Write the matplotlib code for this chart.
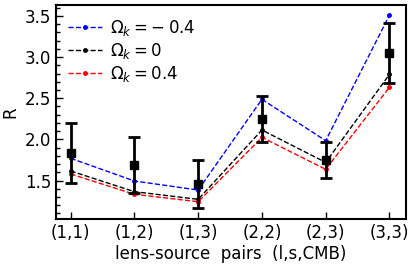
import matplotlib
matplotlib.use("Agg")
import matplotlib.pyplot as plt
from matplotlib.ticker import MultipleLocator

pairs = ["(1,1)", "(1,2)", "(1,3)", "(2,2)", "(2,3)", "(3,3)"]
r_obs = [1.83, 1.69, 1.455, 2.245, 1.745, 3.05]
r_err = [0.365, 0.337, 0.29, 0.28, 0.22, 0.36]
r_neg = [1.77, 1.494, 1.384, 2.487, 1.984, 3.51]
r_zero = [1.616, 1.364, 1.271, 2.114, 1.72, 2.79]
r_pos = [1.579, 1.332, 1.242, 2.025, 1.636, 2.633]

x = list(range(len(pairs)))

fig = plt.figure(figsize=(4.16, 2.64), dpi=100)
ax = fig.add_axes([0.1346, 0.1705, 0.8414, 0.8105])

ax.plot(x, r_neg, ls="--", color="blue", marker=".", ms=5, lw=1.0, label=r"$\Omega_k=-\:0.4$")
ax.plot(x, r_zero, ls="--", color="black", marker=".", ms=5, lw=1.0, label=r"$\Omega_k=0$")
ax.plot(x, r_pos, ls="--", color="red", marker=".", ms=5, lw=1.0, label=r"$\Omega_k=0.4$")
ax.errorbar(x, r_obs, yerr=r_err, fmt="s", color="black", ms=5.5, elinewidth=2,
            capsize=4, capthick=2)

ax.set_xlim(-0.23, 5.26)
ax.set_ylim(1.032, 3.634)
ax.set_xticks(x)
ax.set_xticklabels(pairs)
ax.yaxis.set_major_locator(MultipleLocator(0.5))
ax.yaxis.set_minor_locator(MultipleLocator(0.1))
ax.tick_params(axis="both", which="both", direction="in", labelsize=12)
ax.tick_params(which="major", length=5, width=1)
ax.tick_params(which="minor", length=3, width=1)
for s in ax.spines.values():
    s.set_linewidth(1.5)

ax.set_xlabel("lens-source  pairs  (l,s,CMB)", fontsize=12, labelpad=2)
ax.set_ylabel("R", fontsize=12)
ax.legend(loc="upper left", frameon=False, fontsize=12, handlelength=2.0,
          handletextpad=0.5, borderaxespad=0.35, labelspacing=0.18)

fig.savefig("out.png", dpi=100)
